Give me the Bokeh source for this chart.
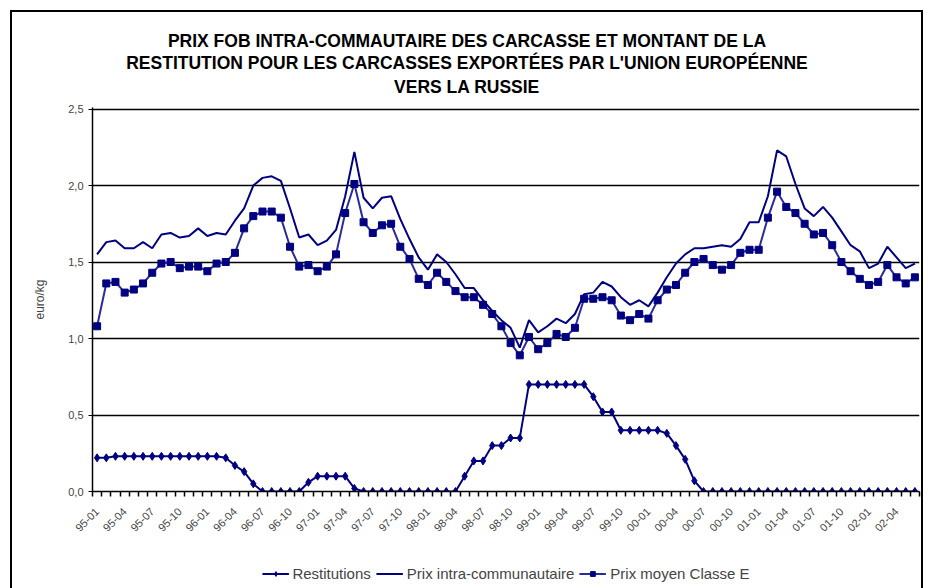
import math
from bokeh.plotting import figure
from bokeh.layouts import column
from bokeh.models import (FixedTicker, CustomJSTickFormatter, Legend, LegendItem,
                          Label, Range1d, ColumnDataSource)
from bokeh.embed import file_html
from bokeh.resources import INLINE

# ---- data -------------------------------------------------------------
years = ["95", "96", "97", "98", "99", "00", "01", "02"]
months = [f"{y}-{m:02d}" for y in years for m in range(1, 13)][:90]

restitutions = [0.22, 0.22, 0.23, 0.23, 0.23, 0.23, 0.23, 0.23, 0.23, 0.23,
                0.23, 0.23, 0.23, 0.23, 0.22, 0.17, 0.13, 0.05, 0.00, 0.00,
                0.00, 0.00, 0.00, 0.06, 0.10, 0.10, 0.10, 0.10, 0.02, 0.00,
                0.00, 0.00, 0.00, 0.00, 0.00, 0.00, 0.00, 0.00, 0.00, 0.00,
                0.10, 0.20, 0.20, 0.30, 0.30, 0.35, 0.35, 0.70, 0.70, 0.70,
                0.70, 0.70, 0.70, 0.70, 0.62, 0.52, 0.52, 0.40, 0.40, 0.40,
                0.40, 0.40, 0.38, 0.30, 0.21, 0.07, 0.00, 0.00, 0.00, 0.00,
                0.00, 0.00, 0.00, 0.00, 0.00, 0.00, 0.00, 0.00, 0.00, 0.00,
                0.00, 0.00, 0.00, 0.00, 0.00, 0.00, 0.00, 0.00, 0.00, 0.00]

prix_intra = [1.55, 1.63, 1.64, 1.59, 1.59, 1.63, 1.59, 1.68, 1.69, 1.66,
              1.67, 1.72, 1.67, 1.69, 1.68, 1.77, 1.85, 2.00, 2.05, 2.06,
              2.03, 1.85, 1.66, 1.68, 1.61, 1.64, 1.71, 1.93, 2.22, 1.92,
              1.85, 1.92, 1.93, 1.78, 1.65, 1.53, 1.45, 1.55, 1.50, 1.42,
              1.33, 1.33, 1.25, 1.18, 1.12, 1.07, 0.94, 1.12, 1.04, 1.08,
              1.13, 1.10, 1.16, 1.29, 1.30, 1.37, 1.34, 1.27, 1.22, 1.25,
              1.21, 1.30, 1.40, 1.49, 1.55, 1.59, 1.59, 1.60, 1.61, 1.60,
              1.65, 1.76, 1.76, 1.93, 2.23, 2.19, 2.01, 1.85, 1.80, 1.86,
              1.79, 1.70, 1.61, 1.57, 1.46, 1.49, 1.60, 1.53, 1.46, 1.49]

prix_classe_e = [1.08, 1.36, 1.37, 1.30, 1.32, 1.36, 1.43, 1.49, 1.50, 1.46,
                 1.47, 1.47, 1.44, 1.49, 1.50, 1.56, 1.72, 1.80, 1.83, 1.83,
                 1.79, 1.60, 1.47, 1.48, 1.44, 1.47, 1.55, 1.82, 2.01, 1.76,
                 1.69, 1.74, 1.75, 1.60, 1.52, 1.39, 1.35, 1.43, 1.37, 1.31,
                 1.27, 1.27, 1.22, 1.16, 1.08, 0.97, 0.89, 1.01, 0.93, 0.97,
                 1.03, 1.01, 1.07, 1.26, 1.26, 1.27, 1.25, 1.15, 1.12, 1.16,
                 1.13, 1.25, 1.32, 1.35, 1.43, 1.50, 1.52, 1.48, 1.45, 1.48,
                 1.56, 1.58, 1.58, 1.79, 1.96, 1.86, 1.82, 1.75, 1.68, 1.69,
                 1.61, 1.50, 1.44, 1.39, 1.35, 1.37, 1.48, 1.40, 1.36, 1.40]

y_ticks = [0.0, 0.5, 1.0, 1.5, 2.0, 2.5]
label_every = 3

title_lines = ["PRIX FOB INTRA-COMMAUTAIRE DES CARCASSE ET MONTANT DE LA",
               "RESTITUTION POUR LES CARCASSES EXPORTÉES PAR L'UNION EUROPÉENNE",
               "VERS LA RUSSIE"]
legend_labels = ["Restitutions", "Prix intra-communautaire", "Prix moyen Classe E"]

# ---- styling -----------------------------------------------------------
FONT = "Liberation Sans"
NAVY = "#000080"
CLASSE_LINE = "#2b2b99"
W = 909
BORDER_L, BORDER_R = 80, 2
TITLE_H = 87
TITLE_ROWS = [28, 50, 74]          # pixel rows of the three title lines in the strip

idx = list(range(len(months)))
src = ColumnDataSource(dict(x=idx, month=months, rest=restitutions,
                            intra=prix_intra, classe=prix_classe_e))

# ---- title strip (pixel coordinates of the strip) ------------------------
t = figure(width=W, height=TITLE_H, output_backend="svg", toolbar_location=None,
           x_range=Range1d(BORDER_L, W - BORDER_R), y_range=Range1d(TITLE_H, 0),
           min_border_left=BORDER_L, min_border_right=BORDER_R, min_border_top=0,
           min_border_bottom=0)
t.axis.visible = False
t.grid.visible = False
t.outline_line_color = None
t.border_fill_color = "white"
for line, row in zip(title_lines, TITLE_ROWS):
    t.add_layout(Label(x=W / 2, y=row, text=line, text_align="center",
                       text_baseline="middle", text_font=FONT,
                       text_font_size="17.5px", text_font_style="bold",
                       text_color="black"))

# ---- main chart ----------------------------------------------------------
p = figure(width=W, height=459, output_backend="svg", toolbar_location=None,
           x_range=Range1d(-0.5, len(months) - 0.5), y_range=Range1d(0, 2.51),
           min_border_left=BORDER_L, min_border_right=BORDER_R, min_border_top=8,
           min_border_bottom=67)
p.outline_line_color = None
p.background_fill_color = "white"
p.border_fill_color = "white"

p.xgrid.visible = False
p.ygrid.ticker = FixedTicker(ticks=y_ticks)
p.ygrid.grid_line_color = "black"
p.ygrid.grid_line_width = 1.5

p.yaxis.ticker = FixedTicker(ticks=y_ticks)
p.yaxis.formatter = CustomJSTickFormatter(code="return tick.toFixed(1).replace('.', ',');")
p.yaxis.axis_label = "euro/kg"
p.yaxis.axis_label_text_font = FONT
p.yaxis.axis_label_text_font_style = "normal"
p.yaxis.axis_label_text_font_size = "12px"
p.yaxis.axis_label_standoff = 18
p.yaxis.major_label_text_font = FONT
p.yaxis.major_label_text_font_size = "11px"
p.yaxis.major_tick_in = 4
p.yaxis.major_tick_out = 4
p.yaxis.minor_tick_line_color = None
p.yaxis.axis_line_width = 1.5
p.yaxis.major_label_standoff = 5

major = [i for i in idx if i % label_every == 0]
p.xaxis.ticker = FixedTicker(ticks=major,
                             minor_ticks=[i - 0.5 for i in range(len(months) + 1)])
p.xaxis.major_label_overrides = {i: months[i] for i in major}
p.xaxis.major_label_orientation = math.pi / 4
p.xaxis.major_label_text_font = FONT
p.xaxis.major_label_text_font_size = "11px"
p.xaxis.major_tick_in = 0
p.xaxis.major_tick_out = 0
p.xaxis.minor_tick_in = 0
p.xaxis.minor_tick_out = 5
p.xaxis.minor_tick_line_width = 1.5
p.xaxis.axis_line_width = 1.5
p.xaxis.major_label_standoff = 13

p.line("x", "rest", source=src, line_color=NAVY, line_width=2)
p.scatter("x", "rest", source=src, marker="diamond", size=8,
          fill_color=NAVY, line_color=NAVY)
p.line("x", "intra", source=src, line_color=NAVY, line_width=2)
p.line("x", "classe", source=src, line_color=CLASSE_LINE, line_width=2)
p.scatter("x", "classe", source=src, marker="square", size=7,
          fill_color=NAVY, line_color=NAVY)

# ---- legend strip ----------------------------------------------------------
# same series drawn with a y-range that keeps them out of view: only the
# legend swatches of this strip are visible
q = figure(width=W, height=30, output_backend="svg", toolbar_location=None,
           x_range=Range1d(-0.5, len(months) - 0.5), y_range=Range1d(10, 11),
           min_border_left=BORDER_L, min_border_right=BORDER_R, min_border_top=0,
           min_border_bottom=0)
q.axis.visible = False
q.grid.visible = False
q.outline_line_color = None
q.border_fill_color = "white"
l1 = q.line("x", "rest", source=src, line_color=NAVY, line_width=2)
m1 = q.scatter("x", "rest", source=src, marker="diamond", size=8,
               fill_color=NAVY, line_color=NAVY)
l2 = q.line("x", "intra", source=src, line_color=NAVY, line_width=2)
l3 = q.line("x", "classe", source=src, line_color=CLASSE_LINE, line_width=2)
m3 = q.scatter("x", "classe", source=src, marker="square", size=7,
               fill_color=NAVY, line_color=NAVY)
legend = Legend(items=[
    LegendItem(label=legend_labels[0], renderers=[l1, m1]),
    LegendItem(label=legend_labels[1], renderers=[l2]),
    LegendItem(label=legend_labels[2], renderers=[l3, m3]),
], orientation="horizontal", location="center", border_line_color=None,
   background_fill_alpha=0, label_text_font=FONT, label_text_font_size="15px",
   glyph_width=27, glyph_height=12, label_height=14, padding=0, margin=0,
   spacing=5, label_standoff=4)
q.add_layout(legend)

layout = column(t, p, q, spacing=0,
                styles={"margin-left": "12px", "margin-top": "12px",
                        "outline": "2px solid black"})

open("out.html", "w").write(file_html(layout, INLINE))
